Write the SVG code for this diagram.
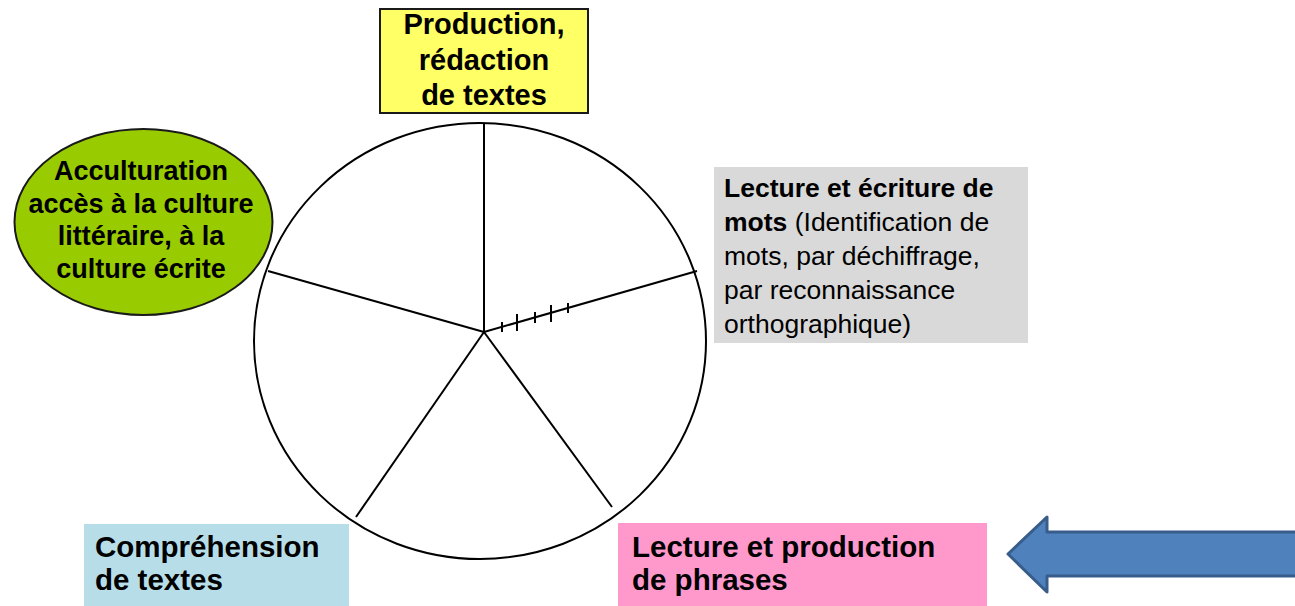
<svg xmlns="http://www.w3.org/2000/svg" width="1295" height="606" viewBox="0 0 1295 606">
<style>
.b{font-family:"Liberation Sans",Arial,sans-serif;font-weight:bold;fill:#000}
.r{font-family:"Liberation Sans",Arial,sans-serif;font-weight:normal;fill:#000}
.ln{stroke:#000;stroke-width:2;fill:none}
</style>
<rect width="1295" height="606" fill="#fff"/>
<g id="wheel">
<ellipse cx="480" cy="341" rx="226" ry="218" class="ln"/>
</g>
<g id="connectors" class="ln">
<line x1="484" y1="332" x2="484" y2="123"/>
<line x1="484" y1="332" x2="697" y2="271"/>
<line x1="484" y1="332" x2="268" y2="271"/>
<line x1="484" y1="332" x2="356" y2="517"/>
<line x1="484" y1="332" x2="612" y2="507"/>
<line x1="502" y1="322" x2="502" y2="332"/>
<line x1="517" y1="314" x2="517" y2="331"/>
<line x1="535" y1="312" x2="535" y2="323"/>
<line x1="551" y1="305" x2="551" y2="322"/>
<line x1="568" y1="303" x2="568" y2="313"/>
</g>
<g id="production">
<rect x="380" y="9" width="208" height="104" fill="#FFFF66" stroke="#1a1a1a" stroke-width="2"/>
<text class="b" font-size="29" text-anchor="middle"><tspan x="484" y="34">Production,</tspan><tspan x="484" y="70">rédaction</tspan><tspan x="484" y="105">de textes</tspan></text>
</g>
<g id="acculturation">
<ellipse cx="143.5" cy="222" rx="129" ry="93" fill="#99CC00" stroke="#1a1a1a" stroke-width="2"/>
<text class="b" font-size="27" text-anchor="middle"><tspan x="141" y="180">Acculturation</tspan><tspan x="141" y="213">accès à la culture</tspan><tspan x="141" y="245">littéraire, à la</tspan><tspan x="141" y="278">culture écrite</tspan></text>
</g>
<g id="mots">
<rect x="714" y="167" width="314" height="176" fill="#D9D9D9"/>
<text font-size="26.5"><tspan class="b" x="724" y="197">Lecture et écriture de</tspan><tspan class="b" x="724" y="231">mots</tspan><tspan class="r"> (Identification de</tspan><tspan class="r" x="724" y="265">mots, par déchiffrage,</tspan><tspan class="r" x="724" y="299">par reconnaissance</tspan><tspan class="r" x="724" y="333">orthographique)</tspan></text>
</g>
<g id="comprehension">
<rect x="84" y="524" width="265" height="82" fill="#B7DEE8"/>
<text class="b" font-size="29.5"><tspan x="95" y="557">Compréhension</tspan><tspan x="95" y="590">de textes</tspan></text>
</g>
<g id="phrases">
<rect x="618" y="523" width="369" height="83" fill="#FF99CC"/>
<text class="b" font-size="29.5"><tspan x="632" y="557">Lecture et production</tspan><tspan x="632" y="590">de phrases</tspan></text>
</g>
<g id="arrow">
<path d="M1008,554 L1047,517 L1047,532 L1300,532 L1300,576 L1047,576 L1047,592 Z" fill="#4F81BD" stroke="#385D8A" stroke-width="3" stroke-linejoin="round"/>
</g>
</svg>
